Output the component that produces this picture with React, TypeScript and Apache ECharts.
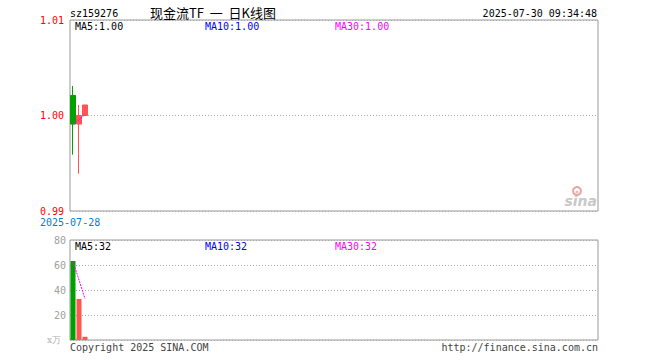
import React, { useEffect, useRef } from "react";
import * as echarts from "echarts";

const tradeDates = ["2025-07-28", "2025-07-29", "2025-07-30"];
const SLOT_COUNT = 88;
// [open, close, low, high]
const candles = [
  [1.0021, 0.9991, 0.9959, 1.0031],
  [0.9991, 1.0, 0.9939, 1.0011],
  [1.0, 1.0011, 1.0, 1.0011],
];
const priceMA = [0.9991, 0.99955, 1.0001];
const volumes = [63.2, 32.8, 2.6];
const volumeMA = [63, 48, 33];
const priceTicks = { min: 0.99, max: 1.01, interval: 0.01 };
const volumeTicks = { min: 0, max: 80, interval: 20 };

const MONO = "DejaVu Sans Mono";
const RED = "#ff5555";
const GREEN = "#00a000";

export default function App() {
  const ref = useRef<HTMLDivElement>(null);
  useEffect(() => {
    if (!ref.current) return;
    const chart = echarts.init(ref.current, undefined, { renderer: "svg" });
    const cats: string[] = [];
    for (let i = 0; i < SLOT_COUNT; i++) cats.push(i < tradeDates.length ? tradeDates[i] : "d" + i);

    const volData = volumes.map((v, i) => ({
      value: v,
      itemStyle: { color: candles[i][1] >= candles[i][0] ? RED : GREEN },
    }));

    const txt = (x: number, y: number, text: string, fill: string, extra: any = {}) => ({
      type: "text",
      x,
      y,
      style: { text, fill, font: `10px "${MONO}"`, textVerticalAlign: "middle", ...extra },
      silent: true,
    });

    chart.setOption({
      animation: false,
      backgroundColor: "#fff",
      grid: [
        { left: 70, top: 20, width: 528, height: 191, show: true, borderColor: "#999", borderWidth: 1, backgroundColor: "transparent" },
        { left: 70, top: 240, width: 528, height: 100, show: true, borderColor: "#999", borderWidth: 1, backgroundColor: "transparent" },
      ],
      xAxis: [
        { type: "category", gridIndex: 0, data: cats, boundaryGap: true, axisLine: { show: false }, axisTick: { show: false }, axisLabel: { show: false }, splitLine: { show: false } },
        { type: "category", gridIndex: 1, data: cats, boundaryGap: true, axisLine: { show: false }, axisTick: { show: false }, axisLabel: { show: false }, splitLine: { show: false } },
      ],
      yAxis: [
        {
          type: "value",
          gridIndex: 0,
          min: priceTicks.min,
          max: priceTicks.max,
          interval: priceTicks.interval,
          axisLine: { show: false },
          axisTick: { show: false },
          axisLabel: { color: "#ff0000", fontFamily: MONO, fontSize: 10, margin: 6, formatter: (v: number) => v.toFixed(2) },
          splitLine: { show: true, lineStyle: { color: "#aaa", type: [1, 2] } },
        },
        {
          type: "value",
          gridIndex: 1,
          min: volumeTicks.min,
          max: volumeTicks.max,
          interval: volumeTicks.interval,
          axisLine: { show: false },
          axisTick: { show: false },
          axisLabel: { color: "#a0a0a0", fontFamily: MONO, fontSize: 10, margin: 4, formatter: (v: number) => (v === 0 ? "" : String(v)) },
          splitLine: { show: true, lineStyle: { color: "#aaa", type: [1, 2] } },
        },
      ],
      series: [
        {
          type: "candlestick",
          xAxisIndex: 0,
          yAxisIndex: 0,
          data: candles,
          barWidth: 5,
          itemStyle: { color: RED, color0: GREEN, borderColor: RED, borderColor0: GREEN, borderWidth: 1 },
        },
        {
          type: "line",
          xAxisIndex: 0,
          yAxisIndex: 0,
          data: priceMA,
          showSymbol: false,
          lineStyle: { color: "#ff00ff", width: 1, type: [2, 1] },
        },
        {
          type: "bar",
          xAxisIndex: 1,
          yAxisIndex: 1,
          data: volData,
          barWidth: 5,
        },
        {
          type: "line",
          xAxisIndex: 1,
          yAxisIndex: 1,
          data: volumeMA,
          showSymbol: false,
          lineStyle: { color: "#ff00ff", width: 1, type: [2, 1] },
        },
      ],
      graphic: [
        txt(70, 13, "sz159276", "#000"),
        {
          type: "text",
          x: 150,
          y: 12,
          style: { text: "现金流TF  一  日K线图", fill: "#000", font: `13px "Noto Sans CJK SC"`, textVerticalAlign: "middle" },
          silent: true,
        },
        txt(597, 13, "2025-07-30 09:34:48", "#000", { textAlign: "right" }),
        txt(75, 26, "MA5:1.00", "#000"),
        txt(205, 26, "MA10:1.00", "#0000ff"),
        txt(335, 26, "MA30:1.00", "#ff00ff"),
        txt(40, 222, "2025-07-28", "#0080d0"),
        txt(75, 246, "MA5:32", "#000"),
        txt(205, 246, "MA10:32", "#0000ff"),
        txt(335, 246, "MA30:32", "#ff00ff"),
        {
          type: "text",
          x: 47,
          y: 340,
          style: { text: "x万", fill: "#b0b0b0", font: `9px "DejaVu Serif"`, textVerticalAlign: "middle" },
          silent: true,
        },
        txt(70, 347, "Copyright 2025 SINA.COM", "#444"),
        txt(598, 347, "http://finance.sina.com.cn", "#444", { textAlign: "right" }),
        {
          type: "text",
          x: 597,
          y: 201,
          style: { text: "sina", fill: "#c8c8c8", font: `italic bold 14px "DejaVu Sans"`, textAlign: "right", textVerticalAlign: "middle" },
          silent: true,
        },
        { type: "circle", shape: { cx: 577, cy: 191, r: 4 }, style: { fill: "none", stroke: "#f0a0a0", lineWidth: 2 }, silent: true },
        { type: "circle", shape: { cx: 577, cy: 192, r: 1.5 }, style: { fill: "#c8c8c8" }, silent: true },
      ],
    });
    return () => chart.dispose();
  }, []);
  return <div ref={ref} style={{ position: "fixed", left: 0, top: 0, width: 660, height: 360 }} />;
}
